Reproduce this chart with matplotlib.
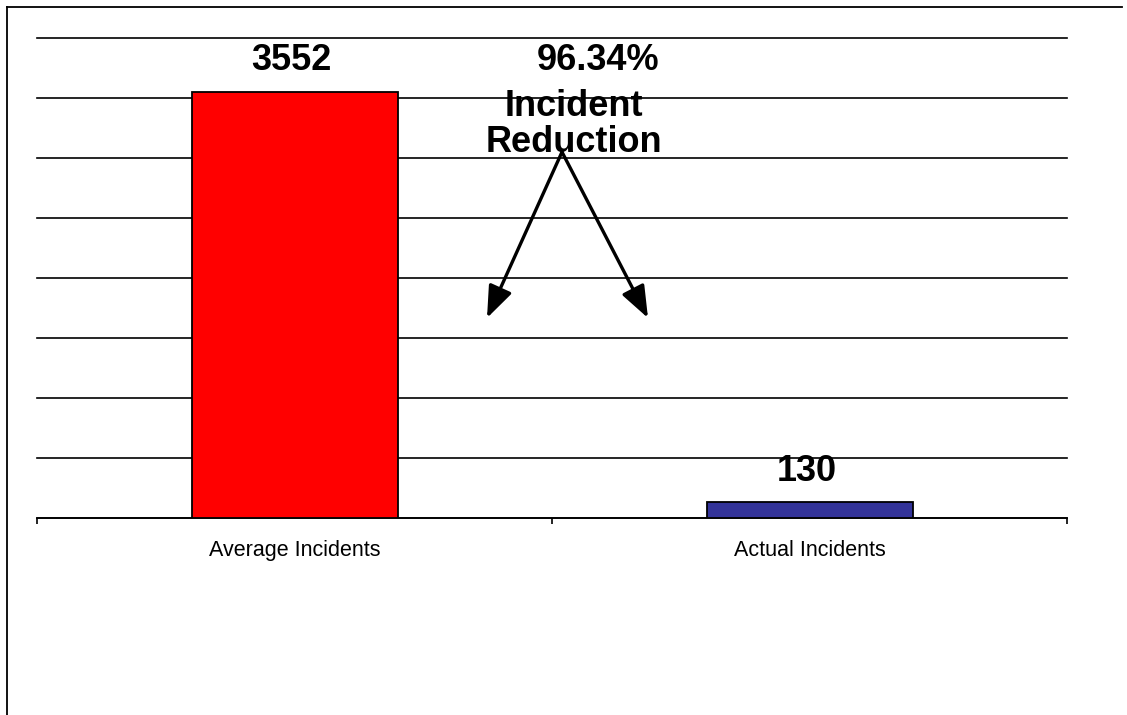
import matplotlib
matplotlib.use("Agg")
import matplotlib.pyplot as plt
from matplotlib.lines import Line2D
import numpy as np

categories = ["Average Incidents", "Actual Incidents"]
values = [3552, 130]
bar_colors = ["#FF0000", "#333399"]
reduction_text = "96.34%"
reduction_label = "Incident\nReduction"
y_max = 4000
y_step = 500

plt.rcParams['font.family'] = ['Liberation Sans', 'DejaVu Sans']

fig = plt.figure(figsize=(11.27, 7.15), dpi=100)
ax = fig.add_axes([37/1127, 197/715, 1030/1127, 480/715])

x = np.arange(len(categories))
bars = ax.bar(x, values, width=0.4, color=bar_colors, edgecolor='black', linewidth=1.3, zorder=3)

ax.set_xlim(-0.5, len(categories) - 0.5)
ax.set_ylim(0, y_max)
ax.set_yticks(np.arange(0, y_max + 1, y_step))
ax.yaxis.grid(True, color='black', linewidth=1.2, zorder=0)
for gl in ax.get_ygridlines():
    gl.set_clip_on(False)
ax.tick_params(axis='y', left=False, labelleft=False)

ax.set_xticks(x)
ax.set_xticklabels(categories, fontsize=15.5)
ax.set_xticks(np.arange(-0.5, len(categories), 1.0), minor=True)
ax.tick_params(axis='x', which='major', length=0, pad=16)
ax.tick_params(axis='x', which='minor', length=4.5, width=1.2, direction='out')

for s in ['left', 'right', 'top']:
    ax.spines[s].set_visible(False)
ax.spines['bottom'].set_linewidth(1.2)

for b, v in zip(bars, values):
    ax.annotate(str(v), (b.get_x() + b.get_width() / 2, v), xytext=(-2, 15.5),
                textcoords='offset points', ha='center', va='baseline',
                fontsize=26, fontweight='bold', zorder=5)

ax.text(0.5447, 0.933, reduction_text, transform=ax.transAxes, ha='center', va='baseline',
        fontsize=26, fontweight='bold', zorder=5)
ax.text(0.5215, 0.7625, reduction_label, transform=ax.transAxes, ha='center', va='baseline',
        fontsize=26, fontweight='bold', linespacing=1.05, zorder=5)

start = (0.5097, 0.7625)
for end in [(0.4369, 0.4167), (0.5932, 0.4167)]:
    ax.annotate('', xy=end, xytext=start, xycoords='axes fraction', textcoords='axes fraction',
                arrowprops=dict(arrowstyle='-|>,head_length=1.3,head_width=0.5', color='black',
                                lw=2.4, shrinkA=0, shrinkB=0, mutation_scale=15), zorder=6)

fig.add_artist(Line2D([7/1127, 1122/1127], [1 - 7/715, 1 - 7/715], color='black', lw=1.3, transform=fig.transFigure))
fig.add_artist(Line2D([7/1127, 7/1127], [0, 1 - 7/715], color='black', lw=1.3, transform=fig.transFigure))

fig.savefig("out.png", dpi=100)
